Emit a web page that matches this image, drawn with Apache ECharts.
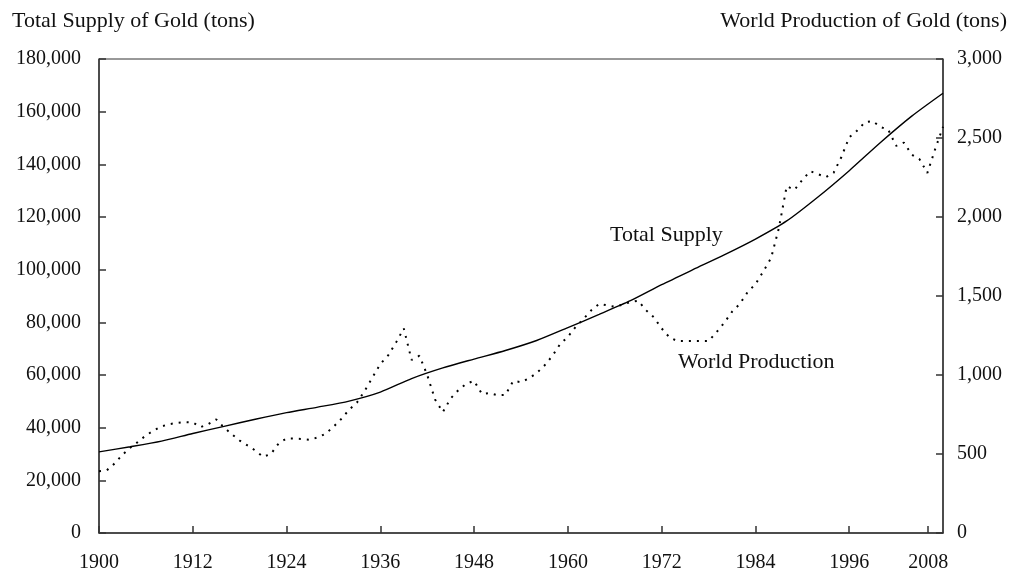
<!DOCTYPE html>
<html><head><meta charset="utf-8">
<script src="https://cdn.jsdelivr.net/npm/echarts@6/dist/echarts.min.js"></script>
<style>html,body{margin:0;padding:0;background:#fff}#c{width:1009px;height:571px}</style>
</head><body><div id="c"></div>
<script>
// ---- data ----
const productionStartYear = 1900;
const worldProduction = [
  391, 397, 440, 495, 540, 577, 618, 648, 675, 689,
  697, 702, 700, 670, 690, 719, 668, 625, 585, 554,
  522, 482, 500, 568, 598, 598, 595, 590, 605, 628,
  672, 722, 780, 825, 900, 985, 1070, 1124, 1205, 1295,
  1095, 1122, 1000, 845, 765, 852, 905, 945, 963, 880,
  885, 872, 874, 962, 955, 978, 1012, 1060, 1120, 1195,
  1242, 1305, 1355, 1410, 1450, 1441, 1432, 1445, 1462, 1470,
  1410, 1365, 1295, 1238, 1215, 1215, 1215, 1215, 1215, 1270,
  1330, 1400, 1450, 1525, 1575, 1655, 1740, 1930, 2195, 2172,
  2235, 2290, 2271, 2252, 2280, 2380, 2505, 2546, 2600, 2607,
  2570, 2552, 2450, 2471, 2395, 2365, 2279, 2430, 2571
];
const supplyYears = [1900,1904,1908,1912,1916,1920,1924,1928,1932,1936,1940,1944,1948,1952,1956,1960,1964,1968,1972,1976,1980,1984,1988,1992,1996,2000,2004,2008];
const totalSupply = [30800,32750,34900,37800,40500,43200,45700,47800,50100,53500,58650,62700,66050,69300,73100,78000,83000,88200,94300,100000,105600,111600,118500,127600,137600,148300,158300,167000];
const xTickYears = [1900,1912,1924,1936,1948,1960,1972,1984,1996,2008];
const leftTitle = 'Total Supply of Gold (tons)';
const rightTitle = 'World Production of Gold (tons)';
const supplyLabel = 'Total Supply';
const productionLabel = 'World Production';

// ---- chart ----
const FONT = 'Liberation Serif';
const AX = '#333';
// last tick label sits just inside the right frame, as in the original
const xTickPos = xTickYears.map(y => y === 2008 ? 2006.1 : y);
const posToLabel = {};
xTickPos.forEach((p, i) => { posToLabel[p] = String(xTickYears[i]); });

const prodData = worldProduction.map((v, i) => [productionStartYear + i, v]);
const supplyData = supplyYears.map((y, i) => [y, totalSupply[i]]);

const chart = echarts.init(document.getElementById('c'));
chart.setOption({
  animation: false,
  backgroundColor: '#fff',
  grid: { left: 99, right: 66, top: 59, bottom: 38, show: true, borderColor: AX, borderWidth: 1, containLabel: false, outerBoundsMode: 'none' },
  xAxis: {
    type: 'value', min: 1900, max: 2008,
    axisLine: { show: true, onZero: false, lineStyle: { color: AX, width: 1.5 } },
    axisTick: { show: true, inside: true, length: 7, customValues: xTickPos, lineStyle: { color: AX, width: 1.5 } },
    axisLabel: { customValues: xTickPos, formatter: v => posToLabel[v] !== undefined ? posToLabel[v] : '', margin: 20, color: '#111', fontFamily: FONT, fontSize: 20 },
    splitLine: { show: false }
  },
  yAxis: [
    {
      type: 'value', min: 0, max: 180000, interval: 20000, position: 'left',
      axisLine: { show: true, lineStyle: { color: AX, width: 1.5 } },
      axisTick: { show: true, inside: true, length: 7, lineStyle: { color: AX, width: 1.5 } },
      axisLabel: { formatter: v => v.toLocaleString('en-US'), margin: 18, color: '#111', fontFamily: FONT, fontSize: 20 },
      splitLine: { show: false }
    },
    {
      type: 'value', min: 0, max: 3000, interval: 500, position: 'right',
      axisLine: { show: true, lineStyle: { color: AX, width: 1.5 } },
      axisTick: { show: true, inside: true, length: 7, lineStyle: { color: AX, width: 1.5 } },
      axisLabel: { formatter: v => v.toLocaleString('en-US'), margin: 14, color: '#111', fontFamily: FONT, fontSize: 20 },
      splitLine: { show: false }
    }
  ],
  series: [
    {
      name: supplyLabel, type: 'line', yAxisIndex: 0, data: supplyData,
      showSymbol: false, smooth: 0.25,
      lineStyle: { color: '#000', width: 1.4 }
    },
    {
      name: productionLabel, type: 'line', yAxisIndex: 1, data: prodData,
      showSymbol: false, smooth: false,
      lineStyle: { color: '#000', width: 2, type: [2, 6], cap: 'butt' }
    }
  ],
  graphic: [
    { type: 'text', left: 12, top: 10, style: { text: leftTitle, font: '22px "Liberation Serif"', fill: '#111' } },
    { type: 'text', right: 2, top: 10, style: { text: rightTitle, font: '22px "Liberation Serif"', fill: '#111' } },
    { type: 'text', left: 610, top: 224, style: { text: supplyLabel, font: '22px "Liberation Serif"', fill: '#111' } },
    { type: 'text', left: 678, top: 351, style: { text: productionLabel, font: '22px "Liberation Serif"', fill: '#111' } }
  ]
});
</script>
</body></html>
